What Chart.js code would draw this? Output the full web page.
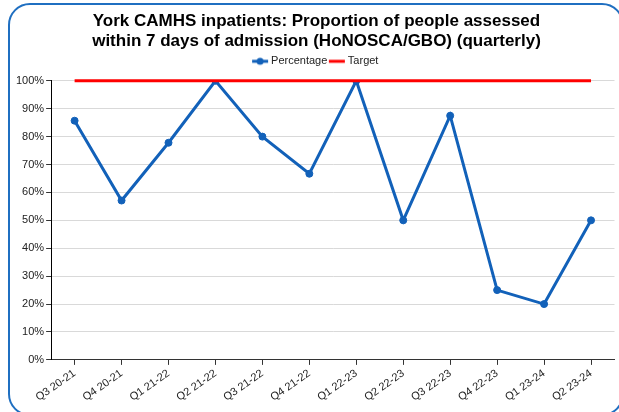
<!DOCTYPE html>
<html>
<head>
<meta charset="utf-8">
<script src="https://cdn.jsdelivr.net/npm/chart.js@4/dist/chart.umd.min.js"></script>
<style>
  html, body { margin: 0; padding: 0; background: #fff; }
  #wrap { position: relative; width: 619px; height: 412px; overflow: hidden; }
  #frame {
    position: absolute; left: 8px; top: 3px; width: 616px; height: 413px;
    border: 2px solid #1f6fc1; border-radius: 22px; box-sizing: border-box;
  }
  canvas { position: absolute; left: 0; top: 0; }
</style>
</head>
<body>
<div id="wrap">
  <div id="frame"></div>
  <canvas id="chart" width="619" height="412"></canvas>
</div>
<script>
const quarters = ['Q3 20-21', 'Q4 20-21', 'Q1 21-22', 'Q2 21-22', 'Q3 21-22', 'Q4 21-22',
  'Q1 22-23', 'Q2 22-23', 'Q3 22-23', 'Q4 22-23', 'Q1 23-24', 'Q2 23-24'];
const percentage = [85.7, 57.1, 77.8, 100, 80, 66.7, 100, 50, 87.5, 25, 20, 50];
const target = [100, 100, 100, 100, 100, 100, 100, 100, 100, 100, 100, 100];

const blue = '#1261b9';
const red = '#ff0000';

// little legend swatches (line, with a dot for Percentage)
function swatch(color, dot) {
  const c = document.createElement('canvas');
  c.width = 18; c.height = 10;
  const ctx = c.getContext('2d');
  ctx.strokeStyle = color;
  ctx.lineWidth = 3;
  ctx.beginPath();
  ctx.moveTo(1, 5); ctx.lineTo(17, 5);
  ctx.stroke();
  if (dot) {
    ctx.fillStyle = color;
    ctx.beginPath();
    ctx.arc(9, 5, 3.5, 0, Math.PI * 2);
    ctx.fill();
  }
  return c;
}
const legendIcons = [swatch(blue, true), swatch(red, false)];

// a bit more room under the legend
const legendGap = {
  id: 'legendGap',
  beforeInit(chart) {
    const fit = chart.legend.fit;
    chart.legend.fit = function () {
      fit.bind(chart.legend)();
      this.height += 4;
    };
  }
};

Chart.defaults.font.family = '"Liberation Sans", Arial, sans-serif';
Chart.defaults.color = '#222';

new Chart(document.getElementById('chart'), {
  type: 'line',
  plugins: [legendGap],
  data: {
    labels: quarters,
    datasets: [
      {
        label: 'Percentage',
        data: percentage,
        borderColor: blue,
        backgroundColor: blue,
        borderWidth: 3,
        pointStyle: 'circle',
        pointRadius: 3.5,
        pointBorderWidth: 1,
        pointHoverRadius: 3.5,
        tension: 0,
        order: 1
      },
      {
        label: 'Target',
        data: target,
        borderColor: red,
        backgroundColor: red,
        borderWidth: 3,
        pointRadius: 0,
        tension: 0,
        clip: 4,
        order: 0
      }
    ]
  },
  options: {
    responsive: false,
    animation: false,
    layout: { padding: { left: 14, right: 0, top: 11, bottom: 6 } },
    plugins: {
      title: {
        display: true,
        text: ['York CAMHS inpatients: Proportion of people assessed',
               'within 7 days of admission (HoNOSCA/GBO) (quarterly)'],
        font: { size: 17, weight: 'bold' },
        color: '#000',
        padding: { top: 0, bottom: 0 },
        lineHeight: 1.35
      },
      legend: {
        display: true,
        labels: {
          usePointStyle: true,
          font: { size: 11 },
          color: '#222',
          boxWidth: 18,
          padding: 4,
          generateLabels(chart) {
            return chart.data.datasets.map((ds, i) => ({
              text: ds.label,
              pointStyle: legendIcons[i],
              datasetIndex: i,
              fontColor: '#222',
              lineWidth: 0,
              hidden: false
            }));
          }
        }
      },
      tooltip: { enabled: false }
    },
    scales: {
      x: {
        offset: true,
        grid: {
          offset: false,
          drawOnChartArea: false,
          drawTicks: true,
          tickLength: 5,
          color: '#333'
        },
        border: { color: '#333', width: 1 },
        ticks: {
          font: { size: 11 },
          color: '#222',
          minRotation: 35,
          maxRotation: 35,
          autoSkip: false,
          padding: 2
        }
      },
      y: {
        min: 0,
        max: 100,
        grid: {
          color: '#d9d9d9',
          tickColor: '#333',
          tickLength: 5
        },
        border: { color: '#000', width: 1 },
        ticks: {
          stepSize: 10,
          font: { size: 11 },
          color: '#222',
          padding: 2,
          callback: v => v + '%'
        }
      }
    }
  }
});
</script>
</body>
</html>
